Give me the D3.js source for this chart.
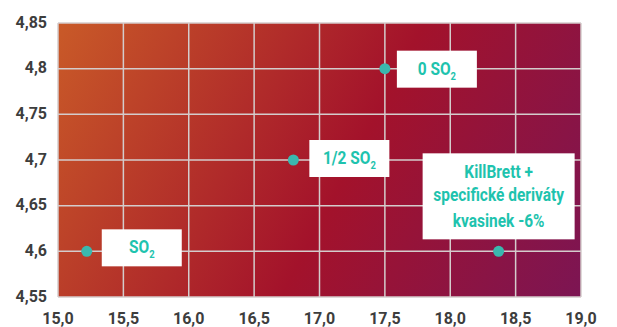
<!DOCTYPE html>
<html>
<head>
<meta charset="utf-8">
<script src="https://cdn.jsdelivr.net/npm/d3@7"></script>
<style>
  body { margin: 0; background: #fff; }
  text { font-family: Roboto, "DejaVu Sans", sans-serif; }
</style>
</head>
<body>
<script>
// data
let xTicks = [15.0, 15.5, 16.0, 16.5, 17.0, 17.5, 18.0, 18.5, 19.0];
let yTicks = [4.55, 4.6, 4.65, 4.7, 4.75, 4.8, 4.85];
let names = ["SO2", "1/2 SO2", "0 SO2", "KillBrett"];
let xValues = [15.22, 16.8, 17.5, 18.37];
let yValues = [4.6, 4.7, 4.8, 4.6];

// label boxes, offsets from the point (px)
let boxes = [
  { dx: 15, dy: -22, w: 80, h: 37 },
  { dx: 16, dy: -20, w: 80, h: 37 },
  { dx: 12, dy: -18, w: 80, h: 37 },
  { dx: -76, dy: -98, w: 152, h: 86 }
];

let W = 617, H = 327;
let m = { left: 58, right: 36, top: 23, bottom: 30 };

let svg = d3.select("body").append("svg")
  .attr("width", W)
  .attr("height", H);

let x = d3.scaleLinear().domain([15, 19]).range([m.left, W - m.right]);
let y = d3.scaleLinear().domain([4.55, 4.85]).range([H - m.bottom, m.top]);

let defs = svg.append("defs");
let grad = defs.append("linearGradient")
  .attr("id", "bg")
  .attr("gradientUnits", "userSpaceOnUse")
  .attr("x1", x(15)).attr("y1", y(4.85))
  .attr("x2", x(19)).attr("y2", y(4.55));
grad.append("stop").attr("offset", 0).attr("stop-color", "#c95a28");
grad.append("stop").attr("offset", 0.55).attr("stop-color", "#a3122b");
grad.append("stop").attr("offset", 1).attr("stop-color", "#7c1553");

svg.append("rect")
  .attr("x", x(15)).attr("y", y(4.85))
  .attr("width", x(19) - x(15))
  .attr("height", y(4.55) - y(4.85))
  .attr("fill", "url(#bg)");

// grid
svg.append("g").selectAll("line").data(xTicks).enter().append("line")
  .attr("x1", d => x(d)).attr("x2", d => x(d))
  .attr("y1", y(4.85)).attr("y2", y(4.55))
  .attr("stroke", "#d4cccc").attr("stroke-width", 1.5);
svg.append("g").selectAll("line").data(yTicks).enter().append("line")
  .attr("y1", d => y(d)).attr("y2", d => y(d))
  .attr("x1", x(15)).attr("x2", x(19))
  .attr("stroke", "#d4cccc").attr("stroke-width", 1.5);

// axis labels
let comma = d3.formatLocale({ decimal: ",", thousands: ".", grouping: [3], currency: ["", ""] });
svg.append("g").selectAll("text").data(yTicks).enter().append("text")
  .attr("x", 47).attr("y", d => y(d))
  .attr("dy", "0.3em")
  .attr("text-anchor", "end")
  .attr("font-size", 16).attr("font-weight", 700)
  .attr("fill", "#3d3d3d")
  .text(d => String(d).replace(".", ","));
svg.append("g").selectAll("text").data(xTicks).enter().append("text")
  .attr("x", d => x(d)).attr("y", 324)
  .attr("text-anchor", "middle")
  .attr("font-size", 16).attr("font-weight", 700)
  .attr("fill", "#3d3d3d")
  .text(d => comma.format(".1f")(d));

// points
svg.append("g").selectAll("circle").data(xValues).enter().append("circle")
  .attr("cx", d => x(d))
  .attr("cy", (d, i) => y(yValues[i]))
  .attr("r", 5.5)
  .attr("fill", "#3ab8ae");

// labels
let teal = "#1ec3ae";
names.forEach((n, i) => {
  let px = x(xValues[i]), py = y(yValues[i]);
  let b = boxes[i];
  let g = svg.append("g");
  g.append("rect")
    .attr("x", px + b.dx).attr("y", py + b.dy)
    .attr("width", b.w).attr("height", b.h)
    .attr("fill", "#fff");
  let cx = px + b.dx + b.w / 2;
  let lines;
  if (n === "KillBrett") {
    lines = [["KillBrett +", 25], ["specifické deriváty", 48], ["kvasinek -6%", 74]];
    lines.forEach(l => {
      g.append("text")
        .attr("transform", `translate(${cx},${py + b.dy + l[1]}) scale(0.86,1)`)
        .attr("text-anchor", "middle")
        .attr("font-size", 18).attr("font-weight", 700)
        .attr("fill", teal)
        .text(l[0]);
    });
  } else {
    let main = n.replace("SO2", "SO");
    let t = g.append("text")
      .attr("transform", `translate(${cx},${py + b.dy + 24}) scale(0.86,1)`)
      .attr("text-anchor", "middle")
      .attr("font-size", 18).attr("font-weight", 700)
      .attr("fill", teal);
    t.append("tspan").text(main);
    t.append("tspan").attr("font-size", 11).attr("dy", 5).text("2");
  }
});
</script>
</body>
</html>
